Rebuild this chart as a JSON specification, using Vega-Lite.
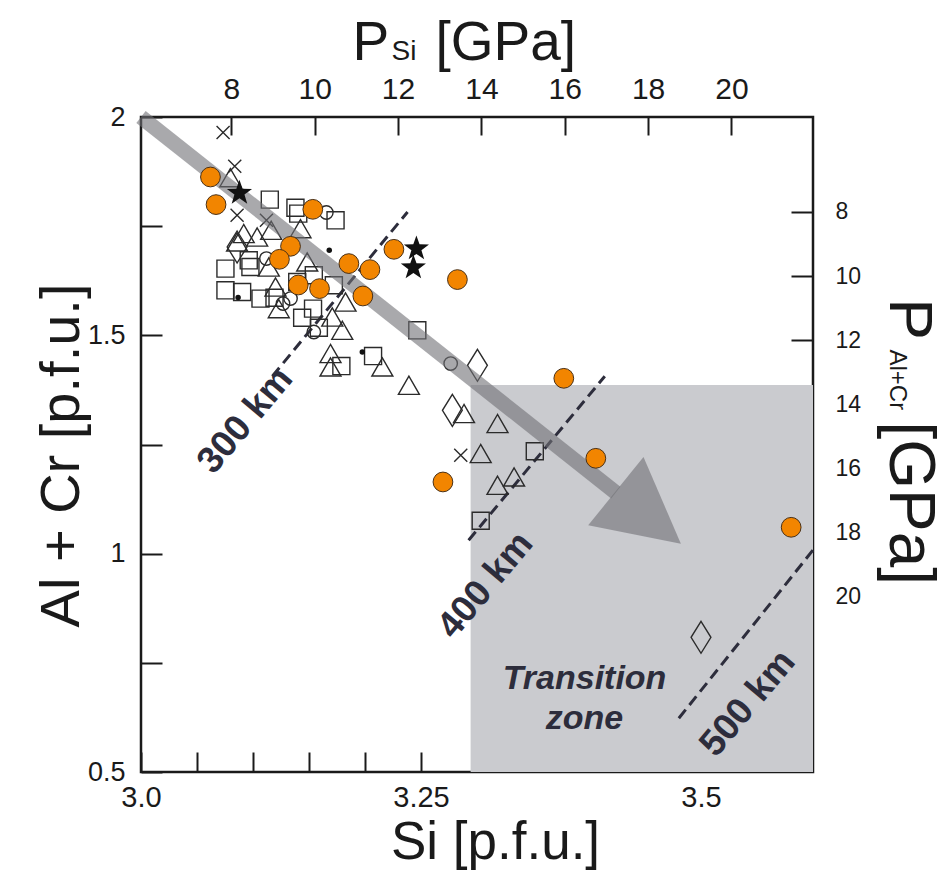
{
  "$schema": "https://vega.github.io/schema/vega-lite/v6.json",
  "width": 672,
  "height": 655,
  "autosize": {"type": "none"},
  "padding": {"left": 141, "top": 117, "right": 137, "bottom": 99},
  "background": "white",
  "config": {
    "view": {"stroke": "#1a1a1a", "strokeWidth": 2.5},
    "axis": {"grid": false, "labelColor": "#1a1a1a", "titleColor": "#1a1a1a", "tickColor": "#1a1a1a", "tickWidth": 2, "domain": false, "labelFlush": false, "labelOverlap": false, "titleFontWeight": "normal"}
  },
  "datasets": {
    "pts": [
      {"si": 3.0620, "alcr": 1.8626, "sym": "orange"},
      {"si": 3.0670, "alcr": 1.7994, "sym": "orange"},
      {"si": 3.1534, "alcr": 1.7886, "sym": "orange"},
      {"si": 3.1335, "alcr": 1.7039, "sym": "orange"},
      {"si": 3.1236, "alcr": 1.6741, "sym": "orange"},
      {"si": 3.1404, "alcr": 1.6153, "sym": "orange"},
      {"si": 3.1594, "alcr": 1.6070, "sym": "orange"},
      {"si": 3.1856, "alcr": 1.6643, "sym": "orange"},
      {"si": 3.2044, "alcr": 1.6505, "sym": "orange"},
      {"si": 3.1981, "alcr": 1.5901, "sym": "orange"},
      {"si": 3.2258, "alcr": 1.6970, "sym": "orange"},
      {"si": 3.2825, "alcr": 1.6277, "sym": "orange"},
      {"si": 3.2696, "alcr": 1.1642, "sym": "orange"},
      {"si": 3.3775, "alcr": 1.4016, "sym": "orange"},
      {"si": 3.4061, "alcr": 1.2184, "sym": "orange"},
      {"si": 3.5805, "alcr": 1.0604, "sym": "orange"},
      {"si": 3.0879, "alcr": 1.8260, "sym": "star"},
      {"si": 3.2459, "alcr": 1.6986, "sym": "star"},
      {"si": 3.2432, "alcr": 1.6551, "sym": "star"},
      {"si": 3.0733, "alcr": 1.9643, "sym": "cross"},
      {"si": 3.0837, "alcr": 1.8871, "sym": "cross"},
      {"si": 3.0858, "alcr": 1.7749, "sym": "cross"},
      {"si": 3.1120, "alcr": 1.7634, "sym": "cross"},
      {"si": 3.2855, "alcr": 1.2253, "sym": "cross"},
      {"si": 3.0798, "alcr": 1.8612, "sym": "triangle"},
      {"si": 3.1424, "alcr": 1.7444, "sym": "triangle"},
      {"si": 3.1162, "alcr": 1.7405, "sym": "triangle"},
      {"si": 3.0917, "alcr": 1.7330, "sym": "triangle"},
      {"si": 3.0858, "alcr": 1.7138, "sym": "triangle"},
      {"si": 3.1037, "alcr": 1.7252, "sym": "triangle"},
      {"si": 3.1484, "alcr": 1.6680, "sym": "triangle"},
      {"si": 3.1141, "alcr": 1.6565, "sym": "triangle"},
      {"si": 3.1201, "alcr": 1.6107, "sym": "triangle"},
      {"si": 3.1230, "alcr": 1.5612, "sym": "triangle"},
      {"si": 3.1826, "alcr": 1.5763, "sym": "triangle"},
      {"si": 3.1708, "alcr": 1.5420, "sym": "triangle"},
      {"si": 3.1797, "alcr": 1.5115, "sym": "triangle"},
      {"si": 3.1692, "alcr": 1.4582, "sym": "triangle"},
      {"si": 3.1692, "alcr": 1.4275, "sym": "triangle"},
      {"si": 3.2155, "alcr": 1.4275, "sym": "triangle"},
      {"si": 3.2392, "alcr": 1.3856, "sym": "triangle"},
      {"si": 3.2884, "alcr": 1.3208, "sym": "triangle"},
      {"si": 3.3183, "alcr": 1.2979, "sym": "triangle"},
      {"si": 3.3033, "alcr": 1.2292, "sym": "triangle"},
      {"si": 3.3183, "alcr": 1.1566, "sym": "triangle"},
      {"si": 3.3331, "alcr": 1.1756, "sym": "triangle"},
      {"si": 3.1150, "alcr": 1.8108, "sym": "square"},
      {"si": 3.1379, "alcr": 1.7921, "sym": "square"},
      {"si": 3.1404, "alcr": 1.7788, "sym": "square"},
      {"si": 3.1737, "alcr": 1.7634, "sym": "square"},
      {"si": 3.0754, "alcr": 1.6528, "sym": "square"},
      {"si": 3.0962, "alcr": 1.6718, "sym": "square"},
      {"si": 3.0977, "alcr": 1.6565, "sym": "square"},
      {"si": 3.0754, "alcr": 1.6031, "sym": "square"},
      {"si": 3.0903, "alcr": 1.5993, "sym": "square"},
      {"si": 3.1067, "alcr": 1.5841, "sym": "square"},
      {"si": 3.1192, "alcr": 1.5860, "sym": "square"},
      {"si": 3.1395, "alcr": 1.6222, "sym": "square"},
      {"si": 3.1543, "alcr": 1.6375, "sym": "square"},
      {"si": 3.1722, "alcr": 1.6146, "sym": "square"},
      {"si": 3.1439, "alcr": 1.5402, "sym": "square"},
      {"si": 3.1536, "alcr": 1.5612, "sym": "square"},
      {"si": 3.1588, "alcr": 1.5173, "sym": "square"},
      {"si": 3.2072, "alcr": 1.4525, "sym": "square"},
      {"si": 3.2467, "alcr": 1.5115, "sym": "square"},
      {"si": 3.1789, "alcr": 1.4296, "sym": "square"},
      {"si": 3.3516, "alcr": 1.2345, "sym": "square"},
      {"si": 3.3033, "alcr": 1.0753, "sym": "square"},
      {"si": 3.1655, "alcr": 1.7813, "sym": "circle"},
      {"si": 3.1120, "alcr": 1.6757, "sym": "circle"},
      {"si": 3.1268, "alcr": 1.5727, "sym": "circle"},
      {"si": 3.1335, "alcr": 1.5841, "sym": "circle"},
      {"si": 3.1543, "alcr": 1.5076, "sym": "circle"},
      {"si": 3.2765, "alcr": 1.4353, "sym": "circle"},
      {"si": 3.0858, "alcr": 1.7023, "sym": "diamond"},
      {"si": 3.3004, "alcr": 1.4314, "sym": "diamond"},
      {"si": 3.2780, "alcr": 1.3283, "sym": "diamond"},
      {"si": 3.5000, "alcr": 0.8085, "sym": "diamond"},
      {"si": 3.1681, "alcr": 1.6947, "sym": "dot"},
      {"si": 3.0867, "alcr": 1.5864, "sym": "dot"},
      {"si": 3.1976, "alcr": 1.4618, "sym": "dot"}
    ],
    "zone": [{"si": 3.2943, "si2": 3.6, "alcr": 0.5, "alcr2": 1.386}],
    "depthLines": [
      {"depth": "300 km", "si": 3.1173, "alcr": 1.4062},
      {"depth": "300 km", "si": 3.2380, "alcr": 1.7825},
      {"depth": "400 km", "si": 3.2925, "alcr": 1.0307},
      {"depth": "400 km", "si": 3.4141, "alcr": 1.4062},
      {"depth": "500 km", "si": 3.4802, "alcr": 0.6231},
      {"depth": "500 km", "si": 3.5999, "alcr": 1.0080}
    ],
    "depthLabels": [
      {"label": "300 km", "si": 3.0932, "alcr": 1.305},
      {"label": "400 km", "si": 3.3077, "alcr": 0.9276},
      {"label": "500 km", "si": 3.5418, "alcr": 0.657}
    ],
    "shaft": [
      {"si": 3.0, "alcr": 2.0},
      {"si": 3.4239, "alcr": 1.1400}
    ],
    "head": [{"si": 3.4530, "alcr": 1.0830}],
    "zoneLabel": [{"label": "Transition\nzone", "si": 3.396, "alcr": 0.7123}],
    "pScales": [{"psi": 8, "palcr": 8}],
    "sub": [{"a": 0, "b": 0}],
    "gpa": [{"c": 0, "d": 0}]
  },
  "layer": [
    {
      "layer": [
        {
          "data": {"name": "zone"},
          "mark": {"type": "rect", "fill": "#cacbcf"},
          "encoding": {
            "x": {"field": "si", "type": "quantitative", "scale": {"domain": [3.0, 3.6], "nice": false, "zero": false},
              "axis": {"orient": "bottom", "values": [3.0, 3.05, 3.1, 3.15, 3.2, 3.25, 3.3, 3.35, 3.4, 3.45, 3.5, 3.55], "tickSize": -20, "labelPadding": 31,
                "labelExpr": "datum.value == 3 ? '3.0' : (abs(datum.value - 3.25) < 0.001 ? '3.25' : (abs(datum.value - 3.5) < 0.001 ? '3.5' : ''))",
                "labelFont": "Liberation Sans Narrow, Arial Narrow, Liberation Sans, sans-serif", "labelFontSize": 29,
                "title": "Si [p.f.u.]", "titleFont": "Liberation Sans Narrow, Arial Narrow, Liberation Sans, sans-serif", "titleFontSize": 53,
                "titleX": 354, "titleY": 86, "titleAlign": "center", "titleBaseline": "alphabetic"}},
            "x2": {"field": "si2"},
            "y": {"field": "alcr", "type": "quantitative", "scale": {"domain": [0.5, 2.0], "nice": false, "zero": false},
              "axis": {"orient": "left", "values": [0.5, 0.75, 1, 1.25, 1.5, 1.75, 2], "tickSize": -21, "labelPadding": 37,
                "labelExpr": "datum.value == 0.5 ? '0.5' : (datum.value == 1 ? '1' : (datum.value == 1.5 ? '1.5' : (datum.value == 2 ? '2' : '')))",
                "labelFont": "Liberation Sans, Arial, sans-serif", "labelFontSize": 27,
                "title": "Al + Cr [p.f.u.]", "titleFont": "Liberation Sans, Arial, sans-serif", "titleFontSize": 56,
                "titleAngle": -90, "titleX": -63, "titleY": 338, "titleAlign": "center", "titleBaseline": "alphabetic"}},
            "y2": {"field": "alcr2"}
          }
        },
        {
          "data": {"name": "depthLines"},
          "mark": {"type": "line", "stroke": "#2d2d3c", "strokeWidth": 3, "strokeDash": [11, 6]},
          "encoding": {
            "x": {"field": "si", "type": "quantitative"},
            "y": {"field": "alcr", "type": "quantitative"},
            "detail": {"field": "depth"}
          }
        },
        {
          "data": {"name": "pts"},
          "transform": [{"filter": "datum.sym == 'square'"}],
          "mark": {"type": "point", "shape": "square", "size": 290, "filled": false, "stroke": "#2b2b2b", "strokeWidth": 1.4, "opacity": 1},
          "encoding": {"x": {"field": "si", "type": "quantitative"}, "y": {"field": "alcr", "type": "quantitative"}}
        },
        {
          "data": {"name": "pts"},
          "transform": [{"filter": "datum.sym == 'triangle'"}],
          "mark": {"type": "point", "shape": "triangle-up", "size": 440, "filled": false, "stroke": "#2b2b2b", "strokeWidth": 1.4, "opacity": 1},
          "encoding": {"x": {"field": "si", "type": "quantitative"}, "y": {"field": "alcr", "type": "quantitative"}}
        },
        {
          "data": {"name": "pts"},
          "transform": [{"filter": "datum.sym == 'circle'"}],
          "mark": {"type": "point", "shape": "circle", "size": 180, "filled": false, "stroke": "#2b2b2b", "strokeWidth": 1.4, "opacity": 1},
          "encoding": {"x": {"field": "si", "type": "quantitative"}, "y": {"field": "alcr", "type": "quantitative"}}
        },
        {
          "data": {"name": "pts"},
          "transform": [{"filter": "datum.sym == 'diamond'"}],
          "mark": {"type": "point", "shape": "M0,-1L0.62,0L0,1L-0.62,0Z", "size": 1024, "filled": false, "stroke": "#2b2b2b", "strokeWidth": 1.4, "opacity": 1},
          "encoding": {"x": {"field": "si", "type": "quantitative"}, "y": {"field": "alcr", "type": "quantitative"}}
        },
        {
          "data": {"name": "pts"},
          "transform": [{"filter": "datum.sym == 'cross'"}],
          "mark": {"type": "point", "shape": "M-1,-1L1,1M1,-1L-1,1", "size": 170, "filled": false, "stroke": "#2b2b2b", "strokeWidth": 1.4, "opacity": 1},
          "encoding": {"x": {"field": "si", "type": "quantitative"}, "y": {"field": "alcr", "type": "quantitative"}}
        },
        {
          "data": {"name": "pts"},
          "transform": [{"filter": "datum.sym == 'dot'"}],
          "mark": {"type": "point", "shape": "circle", "size": 30, "filled": true, "fill": "#111111", "strokeWidth": 0, "opacity": 1},
          "encoding": {"x": {"field": "si", "type": "quantitative"}, "y": {"field": "alcr", "type": "quantitative"}}
        },
        {
          "data": {"name": "shaft"},
          "mark": {"type": "line", "stroke": "#6f6f74", "strokeWidth": 15, "opacity": 0.6, "strokeCap": "butt", "clip": false},
          "encoding": {"x": {"field": "si", "type": "quantitative"}, "y": {"field": "alcr", "type": "quantitative"}}
        },
        {
          "data": {"name": "head"},
          "mark": {"type": "point", "shape": "M1,0L-1,-1.05L-1,1.05Z", "size": 7000, "angle": 39, "filled": true, "fill": "#6f6f74", "strokeWidth": 0, "opacity": 0.6},
          "encoding": {"x": {"field": "si", "type": "quantitative"}, "y": {"field": "alcr", "type": "quantitative"}}
        },
        {
          "data": {"name": "pts"},
          "transform": [{"filter": "datum.sym == 'orange'"}],
          "mark": {"type": "point", "shape": "circle", "size": 390, "filled": true, "fill": "#f28500", "stroke": "#4a3015", "strokeWidth": 1, "opacity": 1},
          "encoding": {"x": {"field": "si", "type": "quantitative"}, "y": {"field": "alcr", "type": "quantitative"}}
        },
        {
          "data": {"name": "pts"},
          "transform": [{"filter": "datum.sym == 'star'"}],
          "mark": {"type": "point", "shape": "M0,-1L0.235,-0.324L0.951,-0.309L0.380,0.124L0.588,0.809L0,0.4L-0.588,0.809L-0.380,0.124L-0.951,-0.309L-0.235,-0.324Z", "size": 700, "filled": true, "fill": "#111111", "strokeWidth": 0, "opacity": 1},
          "encoding": {"x": {"field": "si", "type": "quantitative"}, "y": {"field": "alcr", "type": "quantitative"}}
        },
        {
          "data": {"name": "depthLabels"},
          "mark": {"type": "text", "angle": -50, "font": "Liberation Sans, Arial, sans-serif", "fontWeight": "bold", "fontSize": 37, "fill": "#2d2d3c", "align": "center", "baseline": "middle"},
          "encoding": {"x": {"field": "si", "type": "quantitative"}, "y": {"field": "alcr", "type": "quantitative"}, "text": {"field": "label"}}
        },
        {
          "data": {"name": "zoneLabel"},
          "mark": {"type": "text", "lineBreak": "\n", "lineHeight": 40, "font": "Liberation Sans, Arial, sans-serif", "fontWeight": "bold", "fontStyle": "italic", "fontSize": 34, "fill": "#2d2d3c", "align": "center", "baseline": "middle"},
          "encoding": {"x": {"field": "si", "type": "quantitative"}, "y": {"field": "alcr", "type": "quantitative"}, "text": {"field": "label"}}
        }
      ]
    },
    {
      "data": {"name": "pScales"},
      "mark": {"type": "point", "opacity": 0},
      "encoding": {
        "x": {"field": "psi", "type": "quantitative", "scale": {"domain": [5.831, 21.958], "nice": false, "zero": false},
          "axis": {"orient": "top", "values": [8, 10, 12, 14, 16, 18, 20], "tickSize": -18, "labelPadding": 31,
            "labelFont": "Liberation Sans Narrow, Arial Narrow, Liberation Sans, sans-serif", "labelFontSize": 30,
            "title": "P", "titleFont": "Liberation Sans Narrow, Arial Narrow, Liberation Sans, sans-serif", "titleFontSize": 55,
            "titleX": 211, "titleY": -58, "titleAlign": "left", "titleBaseline": "alphabetic", "titleAngle": 0}},
        "y": {"field": "palcr", "type": "quantitative", "scale": {"domain": [5.041, 25.46], "nice": false, "zero": false, "reverse": true},
          "axis": {"orient": "right", "values": [8, 10, 12, 14, 16, 18, 20], "tickSize": -22, "labelPadding": 44,
            "labelFont": "Liberation Sans, Arial, sans-serif", "labelFontSize": 23,
            "title": "P", "titleFont": "Liberation Sans, Arial, sans-serif", "titleFontSize": 62,
            "titleAngle": 90, "titleX": 76, "titleY": 181, "titleAlign": "left", "titleBaseline": "alphabetic"}}
      }
    },
    {
      "data": {"name": "sub"},
      "mark": {"type": "point", "opacity": 0},
      "encoding": {
        "x": {"field": "a", "type": "quantitative", "scale": {"domain": [0, 1]},
          "axis": {"orient": "top", "ticks": false, "labels": false, "domain": false,
            "title": "Si", "titleFont": "Liberation Sans Narrow, Arial Narrow, Liberation Sans, sans-serif", "titleFontSize": 28,
            "titleX": 250, "titleY": -58, "titleAlign": "left", "titleBaseline": "alphabetic", "titleAngle": 0}},
        "y": {"field": "b", "type": "quantitative", "scale": {"domain": [0, 1]},
          "axis": {"orient": "right", "ticks": false, "labels": false, "domain": false,
            "title": "Al+Cr", "titleFont": "Liberation Sans, Arial, sans-serif", "titleFontSize": 24,
            "titleAngle": 90, "titleX": 76, "titleY": 232, "titleAlign": "left", "titleBaseline": "alphabetic"}}
      }
    },
    {
      "data": {"name": "gpa"},
      "mark": {"type": "point", "opacity": 0},
      "encoding": {
        "x": {"field": "c", "type": "quantitative", "scale": {"domain": [0, 1]},
          "axis": {"orient": "top", "ticks": false, "labels": false, "domain": false,
            "title": "[GPa]", "titleFont": "Liberation Sans Narrow, Arial Narrow, Liberation Sans, sans-serif", "titleFontSize": 55,
            "titleX": 294, "titleY": -58, "titleAlign": "left", "titleBaseline": "alphabetic", "titleAngle": 0}},
        "y": {"field": "d", "type": "quantitative", "scale": {"domain": [0, 1]},
          "axis": {"orient": "right", "ticks": false, "labels": false, "domain": false,
            "title": "[GPa]", "titleFont": "Liberation Sans, Arial, sans-serif", "titleFontSize": 64,
            "titleAngle": 90, "titleX": 76, "titleY": 304, "titleAlign": "left", "titleBaseline": "alphabetic"}}
      }
    }
  ],
  "resolve": {"scale": {"x": "independent", "y": "independent"}}
}
